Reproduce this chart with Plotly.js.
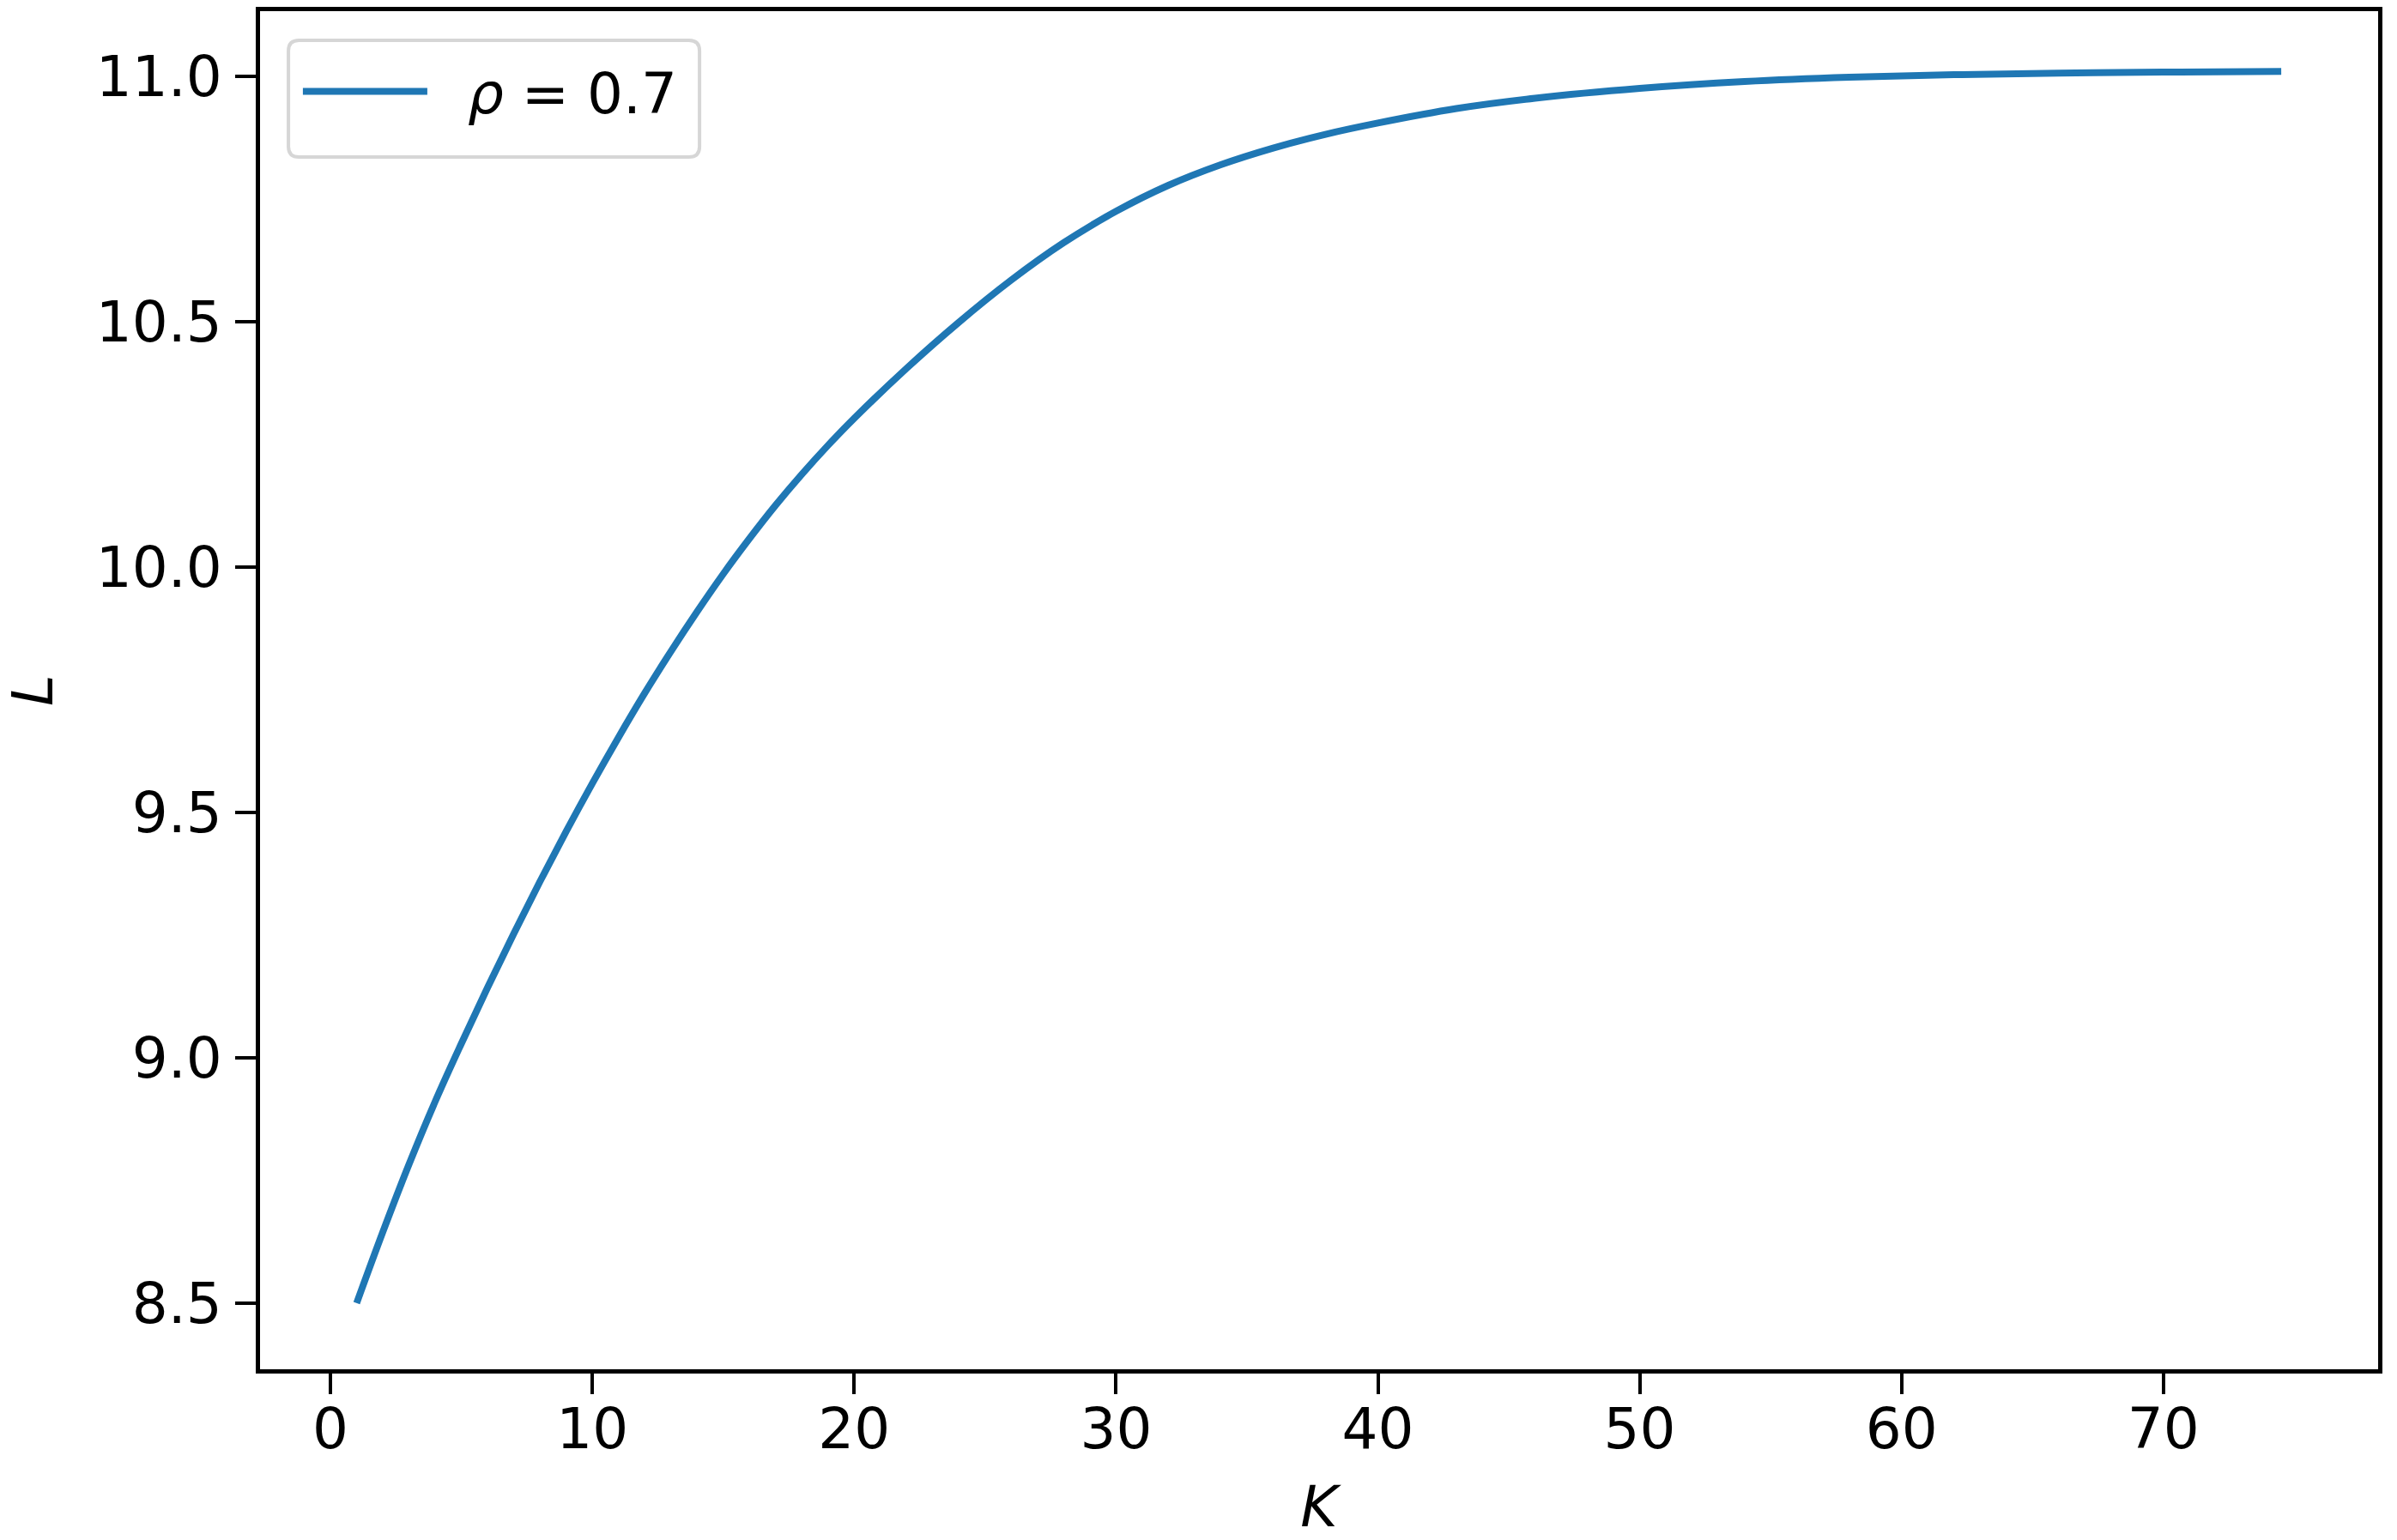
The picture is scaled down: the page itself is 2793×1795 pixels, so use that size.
<!DOCTYPE html>
<html>
<head>
<meta charset="utf-8">
<script src="https://cdn.plot.ly/plotly-3.0.1.min.js"></script>
<style>
  html, body { margin: 0; padding: 0; background: #fff; }
  #grafica { width: 2793px; height: 1795px; }
</style>
</head>
<body>
<div id="grafica"></div>
<script>
const K = [1, 2, 3, 4, 5, 6, 7, 8, 9, 10, 11, 12, 13, 14, 15, 16, 17, 18, 19, 20,
    22, 24, 26, 28, 30, 32, 34, 36, 38, 40, 43, 46, 50, 54, 58, 62, 66, 70, 74.5];
const L = [8.50, 8.645, 8.783, 8.911, 9.029, 9.143, 9.253, 9.359, 9.461, 9.559,
    9.653, 9.743, 9.828, 9.909, 9.986, 10.058, 10.126, 10.189, 10.248, 10.303,
    10.405, 10.499, 10.585, 10.661, 10.725, 10.778, 10.820, 10.854, 10.882, 10.905,
    10.9345, 10.9555, 10.9755, 10.9895, 10.9983, 11.0035, 11.0067, 11.0087, 11.010];
const nombreSerie = '\u00a0\u00a0<i>ρ</i> = 0.7';

const fuente = { family: 'DejaVu Sans', size: 66, color: 'black' };

const traza = {
    x: K,
    y: L,
    name: nombreSerie,
    mode: 'lines',
    line: { color: '#1f77b4', width: 8, shape: 'spline' },
    showlegend: true,
};

const ejeComun = {
    showline: true,
    mirror: true,
    linecolor: 'black',
    linewidth: 5,
    ticks: 'outside',
    ticklen: 24,
    tickwidth: 4,
    tickcolor: 'black',
    showgrid: false,
    zeroline: false,
    tickfont: fuente,
};

// marco de la leyenda (esquinas redondeadas), en coordenadas de papel
const lx0 = 0.0134, lx1 = 0.2075, ly0 = 0.8926, ly1 = 0.9785, rx = 0.005, ry = 0.0078;
const marcoLeyenda = {
    type: 'path',
    xref: 'paper', yref: 'paper',
    path: `M ${lx0 + rx} ${ly1} L ${lx1 - rx} ${ly1} Q ${lx1} ${ly1} ${lx1} ${ly1 - ry} ` +
          `L ${lx1} ${ly0 + ry} Q ${lx1} ${ly0} ${lx1 - rx} ${ly0} ` +
          `L ${lx0 + rx} ${ly0} Q ${lx0} ${ly0} ${lx0} ${ly0 + ry} ` +
          `L ${lx0} ${ly1 - ry} Q ${lx0} ${ly1} ${lx0 + rx} ${ly1} Z`,
    line: { color: '#d6d6d6', width: 4 },
    fillcolor: 'white',
    layer: 'above',
};

const layout = {
    width: 2793,
    height: 1795,
    margin: { l: 303, r: 22, t: 13, b: 199 },
    paper_bgcolor: 'white',
    plot_bgcolor: 'white',
    font: fuente,
    xaxis: Object.assign({}, ejeComun, {
        range: [-2.69, 78.2],
        tickvals: [0, 10, 20, 30, 40, 50, 60, 70],
        ticklabelstandoff: -16,
        title: { text: '<i>K</i>', font: fuente, standoff: 48 },
    }),
    yaxis: Object.assign({}, ejeComun, {
        range: [8.365, 11.133],
        tickvals: [8.5, 9.0, 9.5, 10.0, 10.5, 11.0],
        ticktext: ['8.5', '9.0', '9.5', '10.0', '10.5', '11.0'],
        ticklabelstandoff: 2,
        title: { text: '<i>L</i>', font: fuente, standoff: 54 },
    }),
    shapes: [marcoLeyenda],
    showlegend: true,
    legend: {
        x: 0.0182,
        y: 0.9722,
        xanchor: 'left',
        yanchor: 'top',
        bgcolor: 'rgba(0,0,0,0)',
        borderwidth: 0,
        font: fuente,
        itemwidth: 145,
    },
};

Plotly.newPlot('grafica', [traza], layout, { displayModeBar: false, staticPlot: true });
</script>
</body>
</html>
